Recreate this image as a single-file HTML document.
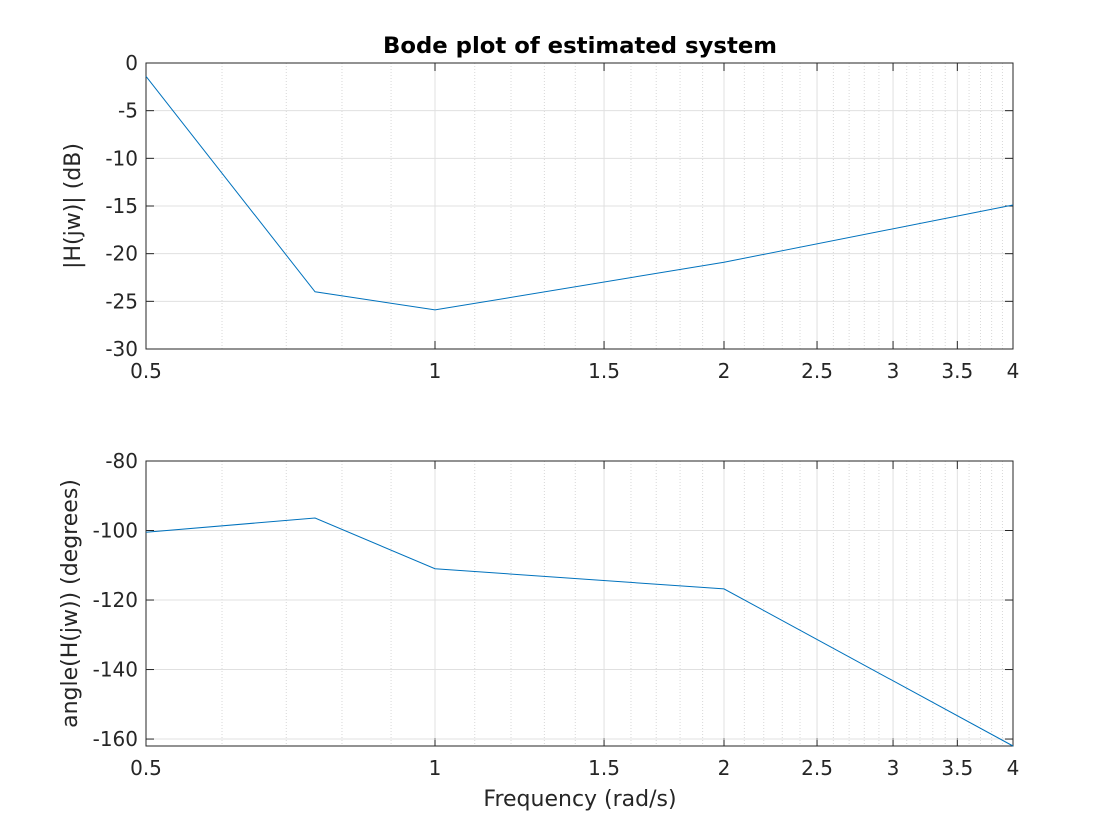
<!DOCTYPE html>
<html><head><meta charset="utf-8"><style>
body{margin:0;background:#fff}
svg{display:block;font-family:"DejaVu Sans","Liberation Sans",sans-serif}
</style></head><body>
<svg id="chart" width="1120" height="840" viewBox="0 0 1120 840" xmlns="http://www.w3.org/2000/svg">
<rect width="1120" height="840" fill="#fff"/>
</svg>
<script>
const freqs=[0.5,0.75,1,2,4];
const magDb=[-1.4,-24,-25.9,-20.9,-14.9];
const phaseDeg=[-100.5,-96.4,-111,-116.8,-162];
const xTicks=[0.5,1,1.5,2,2.5,3,3.5,4];
const magTicks=[0,-5,-10,-15,-20,-25,-30];
const phaseTicks=[-80,-100,-120,-140,-160];

const NS="http://www.w3.org/2000/svg";
const svg=document.getElementById('chart');
function mk(tag,attrs,parent){const e=document.createElementNS(NS,tag);for(const k in attrs)e.setAttribute(k,attrs[k]);(parent||svg).appendChild(e);return e;}
const X0=146,X1=1013,xmin=0.5,xmax=4;
function xs(v){return X0+(Math.log(v/xmin)/Math.log(xmax/xmin))*(X1-X0);}
const minors=[];
for(let v=0.6;v<0.95;v+=0.1)minors.push(+v.toFixed(2));
for(let v=1.1;v<1.95;v+=0.1)minors.push(+v.toFixed(2));
for(let v=2.1;v<3.95;v+=0.1)minors.push(+v.toFixed(2));

function panel(name,top,bot,ymax,ymin,yTicks,vals,ylabel,ylx){
  const ys=v=>top+(ymax-v)/(ymax-ymin)*(bot-top);
  const g=mk('g',{});
  
  
  minors.forEach(m=>{if(xTicks.includes(m))return;const l=mk('line',{x1:xs(m),x2:xs(m),y1:top,y2:bot,stroke:'#d8d8d8','stroke-dasharray':'1,2'},g);
    });
  xTicks.forEach(t=>{const l=mk('line',{x1:xs(t),x2:xs(t),y1:top,y2:bot,stroke:'#e0e0e0'},g);
    
    const tx=mk('text',{x:xs(t),y:bot+29,'text-anchor':'middle','font-size':'20',fill:'#262626'},g);tx.textContent=t;
    
    mk('line',{x1:xs(t),x2:xs(t),y1:bot,y2:bot-8,stroke:'#262626'},g);mk('line',{x1:xs(t),x2:xs(t),y1:top,y2:top+8,stroke:'#262626'},g);});
  yTicks.forEach(t=>{const y=ys(t);const l=mk('line',{x1:X0,x2:X1,y1:y,y2:y,stroke:'#e0e0e0'},g);
    
    const tx=mk('text',{x:X0-8,y:y+7,'text-anchor':'end','font-size':'20',fill:'#262626'},g);tx.textContent=t;
    
    mk('line',{x1:X0,x2:X0+8,y1:y,y2:y,stroke:'#262626'},g);mk('line',{x1:X1,x2:X1-8,y1:y,y2:y,stroke:'#262626'},g);});
  const r=mk('rect',{x:X0,y:top,width:X1-X0,height:bot-top,fill:'none',stroke:'#262626'},g);
  
  const p=mk('polyline',{points:freqs.map((f,i)=>xs(f)+','+ys(vals[i])).join(' '),fill:'none',stroke:'#0072bd','stroke-width':'1'},g);
  
  const cy=(top+bot)/2;
  const yl=mk('text',{x:0,y:0,transform:`translate(${ylx},${cy}) rotate(-90)`,'text-anchor':'middle','font-size':'22',fill:'#262626'},g);
  yl.textContent=ylabel;
}
panel('magnitude-panel',63,349,0,-30,magTicks,magDb,'|H(jw)| (dB)',80);
panel('phase-panel',461,746,-80,-162,phaseTicks,phaseDeg,'angle(H(jw)) (degrees)',77);
const t=mk('text',{x:580,y:53,'text-anchor':'middle','font-size':'22','font-weight':'bold',fill:'#000',textLength:'394',lengthAdjust:'spacingAndGlyphs'});
t.textContent='Bode plot of estimated system';


const xl=mk('text',{x:580,y:806,'text-anchor':'middle','font-size':'22',fill:'#262626'});
xl.textContent='Frequency (rad/s)';


</script>
</body></html>
